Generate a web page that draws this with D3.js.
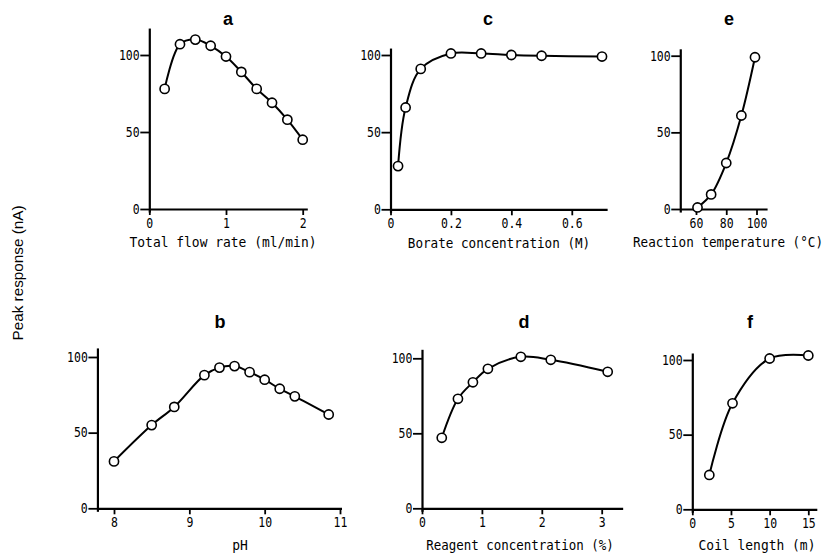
<!DOCTYPE html>
<html>
<head>
<meta charset="utf-8">
<script src="https://cdn.jsdelivr.net/npm/d3@7"></script>
<style>
  html, body { margin: 0; padding: 0; background: #fff; }
  svg { display: block; }
</style>
</head>
<body>
<svg id="chart" width="834" height="557"></svg>
<script>
// ---------- data ----------
const yTicks = [0, 50, 100];

const aX = [0.2, 0.4, 0.6, 0.8, 1.0, 1.2, 1.4, 1.6, 1.8, 2.0];
const aY = [78, 107, 110, 106, 99, 89, 78, 69, 58, 45];
const aTicks = [0, 1, 2];
const aTickLabels = ["0", "1", "2"];

const bX = [8.0, 8.5, 8.8, 9.2, 9.4, 9.6, 9.8, 10.0, 10.2, 10.4, 10.85];
const bY = [31, 55, 67, 88, 93, 94, 90, 85, 79, 74, 62];
const bTicks = [8, 9, 10, 11];
const bTickLabels = ["8", "9", "10", "11"];

const cX = [0.025, 0.05, 0.1, 0.2, 0.3, 0.4, 0.5, 0.7];
const cY = [28, 66, 91, 101, 101, 100, 99.5, 99];
const cTicks = [0, 0.2, 0.4, 0.6];
const cTickLabels = ["0", "0.2", "0.4", "0.6"];

const dX = [0.33, 0.6, 0.85, 1.1, 1.65, 2.15, 3.1];
const dY = [47, 73, 84, 93, 101, 99, 91];
const dTicks = [0, 1, 2, 3];
const dTickLabels = ["0", "1", "2", "3"];

const eX = [61, 70, 80, 90, 99];
const eY = [1, 9.5, 30, 61, 99];
const eTicks = [60, 80, 100];
const eTickLabels = ["60", "80", "100"];

const fX = [2.2, 5.2, 10, 15];
const fY = [23, 71, 101, 103];
const fTicks = [0, 5, 10, 15];
const fTickLabels = ["0", "5", "10", "15"];

const panelTitles = ["a", "b", "c", "d", "e", "f"];
const xLabels = ["Total flow rate (ml/min)", "pH", "Borate concentration (M)",
                 "Reagent concentration (%)", "Reaction temperature (\u00B0C)", "Coil length (m)"];
const yTitle = "Peak response (nA)";

// ---------- layout (pixel calibration per panel) ----------
const panels = [
  { title: panelTitles[0], xs: aX, ys: aY, ticks: aTicks, tl: aTickLabels, xl: xLabels[0],
    xCal: [[0, 149.3], [2, 302.7]], xExt: [0, 2.06], yCal: [[0, 209], [100, 55]], yTop: 117.5,
    titleX: 228, titleY: 25, labelX: 223, labelY: 247, cw: 7.8 },
  { title: panelTitles[1], xs: bX, ys: bY, ticks: bTicks, tl: bTickLabels, xl: xLabels[1],
    xCal: [[8, 114], [11, 340]], xExt: [7.78, 11.02], yCal: [[0, 508.3], [100, 357]], yTop: 106,
    titleX: 220, titleY: 328, labelX: 240, labelY: 550, cw: 7.8 },
  { title: panelTitles[2], xs: cX, ys: cY, ticks: cTicks, tl: cTickLabels, xl: xLabels[2],
    xCal: [[0, 390.5], [0.7, 602]], xExt: [0, 0.717], yCal: [[0, 209.3], [100, 55]], yTop: 104.5,
    titleX: 488, titleY: 25, labelX: 499, labelY: 248, cw: 7.6 },
  { title: panelTitles[3], xs: dX, ys: dY, ticks: dTicks, tl: dTickLabels, xl: xLabels[3],
    xCal: [[0, 422], [3, 601.7]], xExt: [0, 3.35], yCal: [[0, 508.3], [100, 358.3]], yTop: 106,
    titleX: 524, titleY: 328, labelX: 520, labelY: 550, cw: 7.5 },
  { title: panelTitles[4], xs: eX, ys: eY, ticks: eTicks, tl: eTickLabels, xl: xLabels[4],
    xCal: [[60, 696], [100, 756.5]], xExt: [49.6, 107], yCal: [[0, 209], [100, 55.7]], yTop: 104.5,
    titleX: 729, titleY: 25, labelX: 728, labelY: 247, cw: 7.6 },
  { title: panelTitles[5], xs: fX, ys: fY, ticks: fTicks, tl: fTickLabels, xl: xLabels[5],
    xCal: [[0, 692.3], [15, 808.3]], xExt: [0, 16.1], yCal: [[0, 509.3], [100, 360]], yTop: 104.7,
    titleX: 750, titleY: 328, labelX: 757, labelY: 550, cw: 7.8 }
];

const svg = d3.select("#chart");
const MONO = "'DejaVu Sans Mono', 'Liberation Mono', monospace";
const SANS = "'Liberation Sans', Arial, Helvetica, sans-serif";
const LABEL_PX = 14;
const MONO_ADV = 0.602; // advance width of DejaVu Sans Mono per em

panels.forEach(p => {
  const xc = d3.scaleLinear().domain([p.xCal[0][0], p.xCal[1][0]]).range([p.xCal[0][1], p.xCal[1][1]]);
  const yc = d3.scaleLinear().domain([p.yCal[0][0], p.yCal[1][0]]).range([p.yCal[0][1], p.yCal[1][1]]);
  const x = d3.scaleLinear().domain(p.xExt).range(p.xExt.map(xc));
  const y = d3.scaleLinear().domain([-2, p.yTop]).range([yc(-2), yc(p.yTop)]);

  const g = svg.append("g");

  // x axis
  const xa = g.append("g")
    .attr("transform", `translate(0,${yc(0)})`)
    .call(d3.axisBottom(x).tickValues(p.ticks).tickFormat((d, i) => p.tl[i])
      .tickSizeOuter(0).tickSizeInner(6).tickPadding(3));
  // y axis
  const ya = g.append("g")
    .attr("transform", `translate(${x.range()[0]},0)`)
    .call(d3.axisLeft(y).tickValues(yTicks).tickSizeOuter(0).tickSizeInner(9).tickPadding(1));

  [xa, ya].forEach(ax => {
    ax.select(".domain").attr("stroke", "#000").attr("stroke-width", 2.2);
    ax.selectAll(".tick line").attr("stroke", "#000").attr("stroke-width", 1.8);
    ax.selectAll(".tick text")
      .attr("fill", "#000")
      .style("font-family", MONO)
      .style("font-size", "13.5px");
  });
  xa.selectAll(".tick text").attr("transform", "scale(0.85,1)");
  ya.selectAll(".tick text").attr("dx", "-0.1em").attr("transform", "scale(0.85,1)");

  // curve
  const pts = p.xs.map((v, i) => [v, p.ys[i]]);
  g.append("path")
    .datum(pts)
    .attr("fill", "none")
    .attr("stroke", "#000")
    .attr("stroke-width", 2)
    .attr("d", d3.line().x(d => x(d[0])).y(d => y(d[1])).curve(d3.curveCatmullRom.alpha(0.5)));

  // markers
  g.selectAll("circle.pt")
    .data(pts)
    .join("circle")
    .attr("class", "pt")
    .attr("cx", d => x(d[0]))
    .attr("cy", d => y(d[1]))
    .attr("r", 4.6)
    .attr("fill", "#fff")
    .attr("stroke", "#000")
    .attr("stroke-width", 1.6);

  // panel title
  g.append("text")
    .attr("x", p.titleX).attr("y", p.titleY)
    .attr("text-anchor", "middle")
    .style("font-family", SANS)
    .style("font-weight", "bold")
    .style("font-size", "18px")
    .text(p.title);

  // x label (horizontally condensed typewriter look)
  const sx = p.cw / (LABEL_PX * MONO_ADV);
  g.append("text")
    .attr("transform", `translate(${p.labelX},${p.labelY}) scale(${sx},1)`)
    .attr("text-anchor", "middle")
    .style("font-family", MONO)
    .style("font-size", LABEL_PX + "px")
    .text(p.xl);
});

// shared y title
svg.append("text")
  .attr("transform", "translate(23,273) rotate(-90)")
  .attr("text-anchor", "middle")
  .attr("textLength", 135)
  .attr("lengthAdjust", "spacingAndGlyphs")
  .style("font-family", SANS)
  .style("font-size", "14px")
  .text(yTitle);
</script>
</body>
</html>
